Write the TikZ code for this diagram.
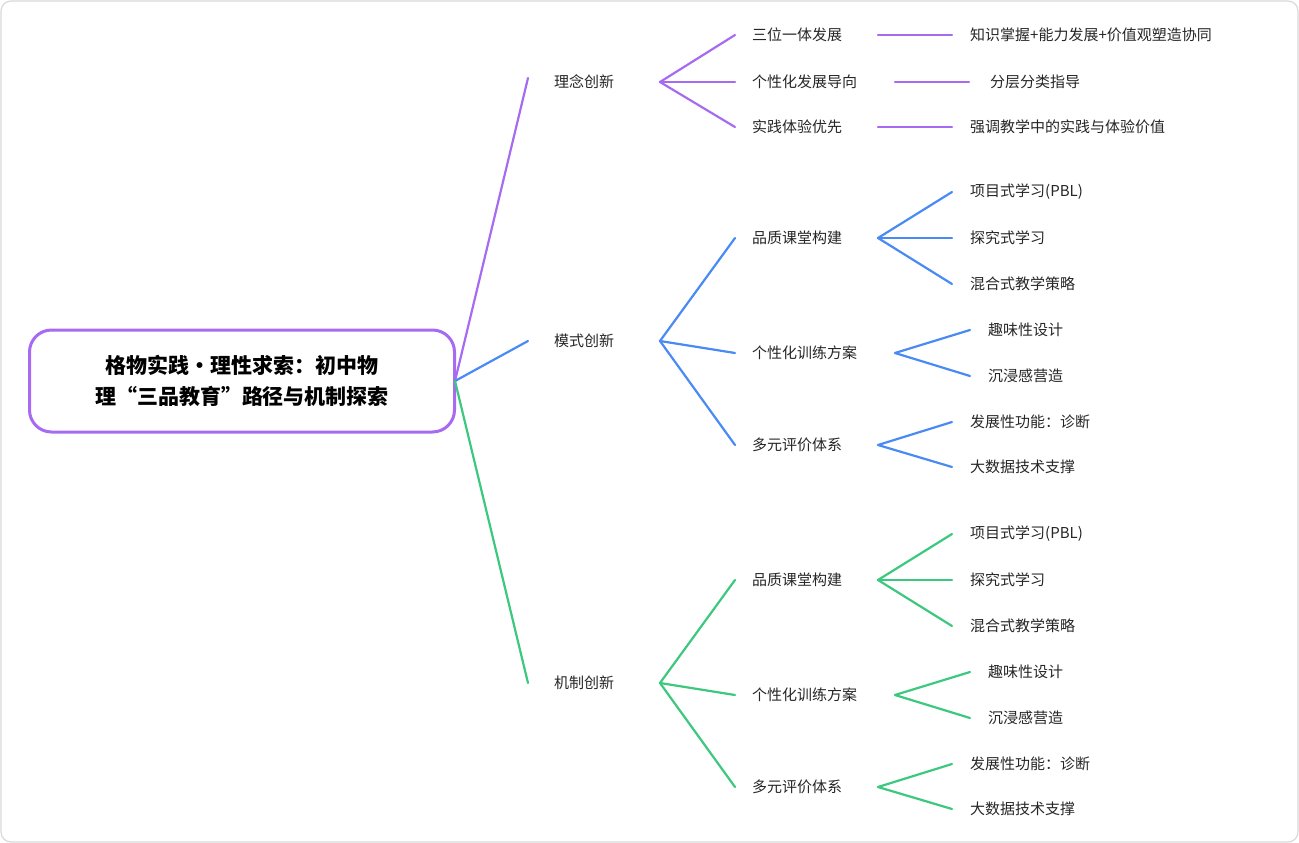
\documentclass[tikz,border=0pt]{standalone}
\usepackage{fontspec}
\setmainfont{Noto Sans CJK SC}
\definecolor{pu}{HTML}{A66BF0}
\definecolor{bl}{HTML}{4A8AF4}
\definecolor{gr}{HTML}{3CC87E}
\begin{document}
\begin{tikzpicture}[x=1pt,y=-1pt,
  t/.style={anchor=west,inner sep=0,font=\fontsize{15}{18}\selectfont,text=black!85},
  br/.style={line width=2.2pt,line cap=round}]
\useasboundingbox (0,0) rectangle (1299,843);
\draw[black!15,rounded corners=10,line width=1.2pt] (1,1) rectangle (1298,842);
\node[draw=pu,line width=3pt,rounded corners=22,minimum width=425,minimum height=102,align=center,font=\fontsize{21}{31}\selectfont\bfseries] (root) at (242,381) {格物实践•理性求索：初中物\\理“三品教育”路径与机制探索};
\coordinate (r) at (455,381);
\newcommand\cv[3]{\draw[br,#1] (#2) .. controls ($(#2)!0.5!(#3)$ |- #2) and ($(#2)!0.5!(#3)$ |- #3) .. (#3);}
\usetikzlibrary{calc}
% level 1
\node[t] (a) at (554,82) {理念创新};
\node[t] (b) at (554,341) {模式创新};
\node[t] (c) at (554,683) {机制创新};
\coordinate (a0) at (528,78); \coordinate (b0) at (528,341); \coordinate (c0) at (528,683);
\cv{pu}{r}{a0} \cv{bl}{r}{b0} \cv{gr}{r}{c0}
\coordinate (a1) at (660,82); \coordinate (b1) at (660,341); \coordinate (c1) at (660,683);
% purple
\foreach \y/\l/\e/\s/\m in {35/三位一体发展/878/970/知识掌握+能力发展+价值观塑造协同,82/个性化发展导向/895/990/分层分类指导/尊重个体差异,127/实践体验优先/878/970/强调教学中的实践与体验价值}{
  \node[t] at (752,\y) {\l};
  \coordinate (p) at (735,\y);
  \cv{pu}{a1}{p}
  \draw[br,pu] (\e,\y) -- (\e+74,\y);
  \node[t] at (\s,\y) {\m};
}
% blue & green
\foreach \col/\o/\src in {bl/0/b1,gr/342/c1}{
  \begin{scope}[yshift=-\o]
  \node[t] at (752,238) {品质课堂构建};
  \node[t] at (752,353) {个性化训练方案};
  \node[t] at (752,445) {多元评价体系};
  \coordinate (q1) at (735,238); \coordinate (q2) at (735,353); \coordinate (q3) at (735,445);
  \coordinate (s) at (660,341);
  \cv{\col}{s}{q1} \cv{\col}{s}{q2} \cv{\col}{s}{q3}
  \coordinate (u1) at (878,238); \coordinate (u2) at (895,353); \coordinate (u3) at (878,445);
  \foreach \y/\m in {192/项目式学习(PBL),238/探究式学习,284/混合式教学策略}{
    \coordinate (z) at (952,\y); \cv{\col}{u1}{z} \node[t] at (970,\y) {\m};}
  \foreach \y/\m in {330/趣味性设计,376/沉浸感营造}{
    \coordinate (z) at (970,\y); \cv{\col}{u2}{z} \node[t] at (988,\y) {\m};}
  \foreach \y/\m in {422/发展性功能：诊断/激励/改进,467/大数据技术支撑}{
    \coordinate (z) at (952,\y); \cv{\col}{u3}{z} \node[t] at (970,\y) {\m};}
  \end{scope}
}
\end{tikzpicture}
\end{document}
